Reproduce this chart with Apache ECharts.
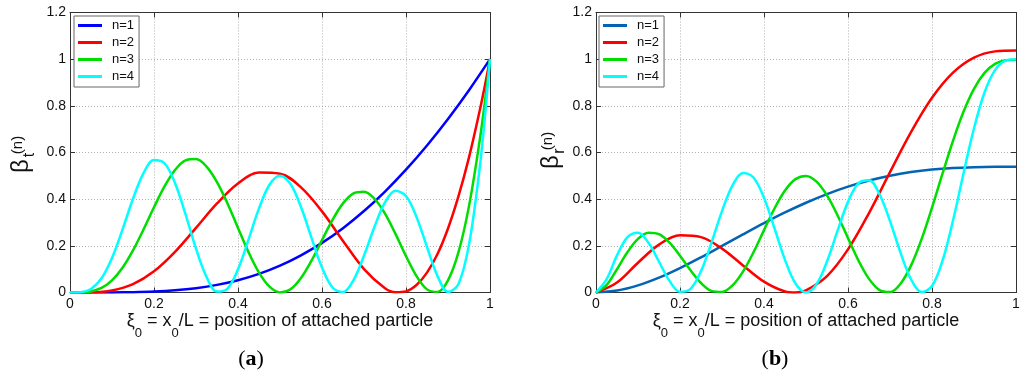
<!DOCTYPE html>
<html><head><meta charset="utf-8">
<script src="https://cdn.jsdelivr.net/npm/echarts@6/dist/echarts.min.js"></script>
<style>html,body{margin:0;padding:0;background:#fff}#c{width:1024px;height:379px}</style>
</head><body><div id="c"></div>
<script>
// ---- data ----
const seriesNames = ['n=1', 'n=2', 'n=3', 'n=4'];
const xTickLabels = ['0', '0.2', '0.4', '0.6', '0.8', '1'];
const yTickLabels = ['0', '0.2', '0.4', '0.6', '0.8', '1', '1.2'];

const x05 = [0,0.05,0.1,0.15,0.2,0.25,0.3,0.35,0.4,0.45,0.5,0.55,0.6,0.65,0.7,0.75,0.8,0.85,0.9,0.95,1];
const x025 = [0,0.025,0.05,0.075,0.1,0.125,0.15,0.175,0.2,0.225,0.25,0.275,0.3,0.325,0.35,0.375,0.4,0.425,0.45,0.475,0.5,0.525,0.55,0.575,0.6,0.625,0.65,0.675,0.7,0.725,0.75,0.775,0.8,0.825,0.85,0.875,0.9,0.925,0.95,0.975,0.9875,1];
const x025r = [0,0.025,0.05,0.075,0.1,0.125,0.15,0.175,0.2,0.225,0.25,0.275,0.3,0.325,0.35,0.375,0.4,0.425,0.45,0.475,0.5,0.525,0.55,0.575,0.6,0.625,0.65,0.675,0.7,0.725,0.75,0.775,0.8,0.825,0.85,0.875,0.9,0.925,0.95,0.975,1];

// (a) beta_t
const xT2 = [0,0.05,0.1,0.15,0.2,0.25,0.3,0.35,0.4,0.45,0.5,0.55,0.6,0.65,0.7,0.75,0.775,0.8,0.825,0.85,0.875,0.9,0.925,0.95,0.975,0.9875,1];
const betaT1 = [0,0.00002,0.00028,0.0014,0.0041,0.0095,0.0186,0.0327,0.0528,0.0800,0.1153,0.1593,0.2126,0.2758,0.3491,0.4326,0.5263,0.6301,0.7437,0.8671,1.0];
const betaT2 = [0,0.0006,0.0086,0.0356,0.0906,0.1741,0.2768,0.3815,0.4671,0.5140,0.5093,0.4505,0.3476,0.2211,0.1005,0.0182,0.0012,0.0049,0.0321,0.0851,0.1647,0.2745,0.4129,0.5792,0.7754,0.8840,1.0];
const betaT3 = [0,0.0003,0.0045,0.0195,0.0520,0.1059,0.1805,0.2701,0.3652,0.4544,0.5249,0.5663,0.5719,0.5398,0.4734,0.3816,0.2766,0.1730,0.0851,0.0249,0.0004,0.0139,0.0622,0.1365,0.2244,0.3111,0.3820,0.4249,0.4322,0.4018,0.3380,0.2511,0.1559,0.0704,0.0134,0.0025,0.0522,0.1728,0.3702,0.6460,0.8126,1.0];
const betaT4 = [0,0.0012,0.0152,0.0610,0.1482,0.2697,0.4016,0.5114,0.5682,0.5539,0.4694,0.3358,0.1882,0.0668,0.0043,0.0170,0.0996,0.2268,0.3606,0.4616,0.5000,0.4647,0.3664,0.2340,0.1066,0.0212,0.0020,0.0534,0.1579,0.2821,0.3861,0.4358,0.4135,0.3240,0.1951,0.0710,0.0027,0.0366,0.2057,0.5261,0.7440,1.0];

// (b) beta_r
const xR2 = [0,0.05,0.1,0.15,0.2,0.25,0.3,0.35,0.4,0.45,0.475,0.5,0.55,0.6,0.65,0.7,0.75,0.8,0.85,0.9,0.95,1];
const betaR1 = [0,0.0082,0.0305,0.0636,0.1046,0.1508,0.1997,0.2491,0.2974,0.3430,0.3847,0.4217,0.4535,0.4798,0.5005,0.5161,0.5269,0.5337,0.5373,0.5387,0.5388];
const betaR2 = [0,0.0427,0.1277,0.2051,0.2451,0.2373,0.1880,0.1160,0.0464,0.0045,0.0002,0.0093,0.0704,0.1849,0.3404,0.5157,0.6874,0.8344,0.9423,1.0066,1.0334,1.0374];
const betaR3 = [0,0.0314,0.0997,0.1733,0.2298,0.2566,0.2499,0.2136,0.1577,0.0952,0.0407,0.0067,0.0020,0.0304,0.0896,0.1724,0.2672,0.3600,0.4369,0.4860,0.4996,0.4752,0.4161,0.3311,0.2330,0.1369,0.0583,0.0103,0.0020,0.0376,0.1153,0.2276,0.3634,0.5090,0.6501,0.7743,0.8727,0.9411,0.9801,0.9958,0.998];
const betaR4 = [0,0.0562,0.1592,0.2375,0.2560,0.2129,0.1318,0.0497,0.0030,0.0157,0.0916,0.2137,0.3490,0.4593,0.5126,0.4930,0.4056,0.2754,0.1400,0.0385,0.0000,0.0352,0.1330,0.2639,0.3884,0.4691,0.4815,0.4213,0.3062,0.1708,0.0569,0.0017,0.0276,0.1362,0.3084,0.5104,0.7040,0.8570,0.9528,0.9936,1.0];

// ---- styling ----
const colorsA = ['#0000ff', '#ff0000', '#00dd00', '#00ffff'];
const colorsB = ['#0464b4', '#ff0000', '#00dd00', '#00ffff'];
const FONT = 'Liberation Sans, Arial, sans-serif';
const zip = (xs, ys) => xs.map((x, i) => [x, ys[i]]);

const panels = [
  { left: 70, xs: [x05, xT2, x025, x025], ys: [betaT1, betaT2, betaT3, betaT4], colors: colorsA, legendLeft: 74 },
  { left: 596, xs: [x05, xR2, x025r, x025r], ys: [betaR1, betaR2, betaR3, betaR4], colors: colorsB, legendLeft: 599 }
];

const axisCol = '#333';
const xName = '{n|ξ}{s|0}{n| = x}{s|0}{n|/L = position of attached particle}';
const nameRich = {
  n: { fontSize: 18, lineHeight: 20, verticalAlign: 'top', color: '#111', fontFamily: FONT },
  s: { fontSize: 13, lineHeight: 13, verticalAlign: 'top', padding: [14, 0, 0, 0], color: '#111', fontFamily: FONT }
};

const grid = [], xAxis = [], yAxis = [], series = [], legend = [];
panels.forEach((p, gi) => {
  grid.push({ left: p.left, top: 12.5, width: 420, height: 280 });
  const common = {
    gridIndex: gi, type: 'value', min: 0,
    axisLine: { show: true, onZero: false, lineStyle: { color: axisCol, width: 1 } },
    axisTick: { show: true, inside: true, length: 5, lineStyle: { color: axisCol } }
  };
  xAxis.push(Object.assign({}, common, {
    max: 1, interval: 0.2, position: 'bottom',
    axisLabel: { margin: 5, fontSize: 14, color: '#111', fontFamily: FONT,
      formatter: v => xTickLabels[Math.round(v / 0.2)] },
    splitLine: { show: true, lineStyle: { color: '#b0b0b0', type: [1, 2] } },
    name: xName, nameLocation: 'middle', nameGap: 20, nameMoveOverlap: false,
    nameTextStyle: { rich: nameRich }
  }));
  xAxis.push(Object.assign({}, common, {
    max: 1, interval: 0.2, position: 'top',
    axisLabel: { show: false }, splitLine: { show: false }
  }));
  yAxis.push(Object.assign({}, common, {
    max: 1.2, interval: 0.2, position: 'left',
    axisLabel: { margin: 4, fontSize: 14, color: '#111', fontFamily: FONT,
      formatter: v => yTickLabels[Math.round(v / 0.2)] },
    splitLine: { show: true, lineStyle: { color: '#b0b0b0', type: [1, 2] } }
  }));
  yAxis.push(Object.assign({}, common, {
    max: 1.2, interval: 0.2, position: 'right',
    axisLabel: { show: false }, splitLine: { show: false }
  }));
  seriesNames.forEach((nm, k) => {
    series.push({
      type: 'line', name: nm, xAxisIndex: gi * 2, yAxisIndex: gi * 2,
      data: zip(p.xs[k], p.ys[k]), symbol: 'none', smooth: 0.35,
      lineStyle: { color: p.colors[k], width: 2.5 }, itemStyle: { color: p.colors[k] },
      z: 2 + k
    });
  });
  legend.push({
    orient: 'vertical', left: p.legendLeft, top: 16,
    icon: 'rect', itemWidth: 24, itemHeight: 3, itemGap: 4,
    padding: [3, 5, 4, 4],
    backgroundColor: '#fff', borderColor: '#666', borderWidth: 1,
    selectedMode: false,
    textStyle: { fontSize: 13, lineHeight: 13, color: '#111', fontFamily: FONT, padding: [0, 0, 0, 5] },
    data: seriesNames.map((nm, k) => ({ name: nm, itemStyle: { color: p.colors[k] } }))
  });
});

const yLabel = (cx, cy, sub) => [
  { type: 'text', x: cx, y: cy, rotation: Math.PI / 2, z: 10,
    style: { text: 'β', font: '24px ' + FONT, fill: '#111', textAlign: 'center', textVerticalAlign: 'middle', align: 'center', verticalAlign: 'middle' } },
  { type: 'text', x: cx - 3, y: cy - 21, rotation: Math.PI / 2, z: 10,
    style: { text: '(n)', font: '15px ' + FONT, fill: '#111', textAlign: 'center', textVerticalAlign: 'middle', align: 'center', verticalAlign: 'middle' } },
  { type: 'text', x: cx + 9, y: cy - 11, rotation: Math.PI / 2, z: 10,
    style: { text: sub, font: '16px ' + FONT, fill: '#111', textAlign: 'center', textVerticalAlign: 'middle', align: 'center', verticalAlign: 'middle' } }
];
const caption = (cx, letter) => ({
  type: 'text', x: cx, y: 359, z: 10,
  style: { text: '{p|(}{b|' + letter + '}{p|)}', textAlign: 'center', textVerticalAlign: 'middle', align: 'center', verticalAlign: 'middle',
    rich: { p: { font: '22px Liberation Serif, serif', fill: '#000' }, b: { font: 'bold 22px Liberation Serif, serif', fill: '#000' } } }
});

const chart = echarts.init(document.getElementById('c'), null, { renderer: 'canvas' });
chart.setOption({
  animation: false,
  backgroundColor: '#fff',
  textStyle: { fontFamily: FONT },
  grid, xAxis, yAxis, series, legend,
  graphic: [].concat(yLabel(21, 166, 't'), yLabel(551, 162, 'r'), [caption(251, 'a'), caption(775, 'b')])
});
</script></body></html>
